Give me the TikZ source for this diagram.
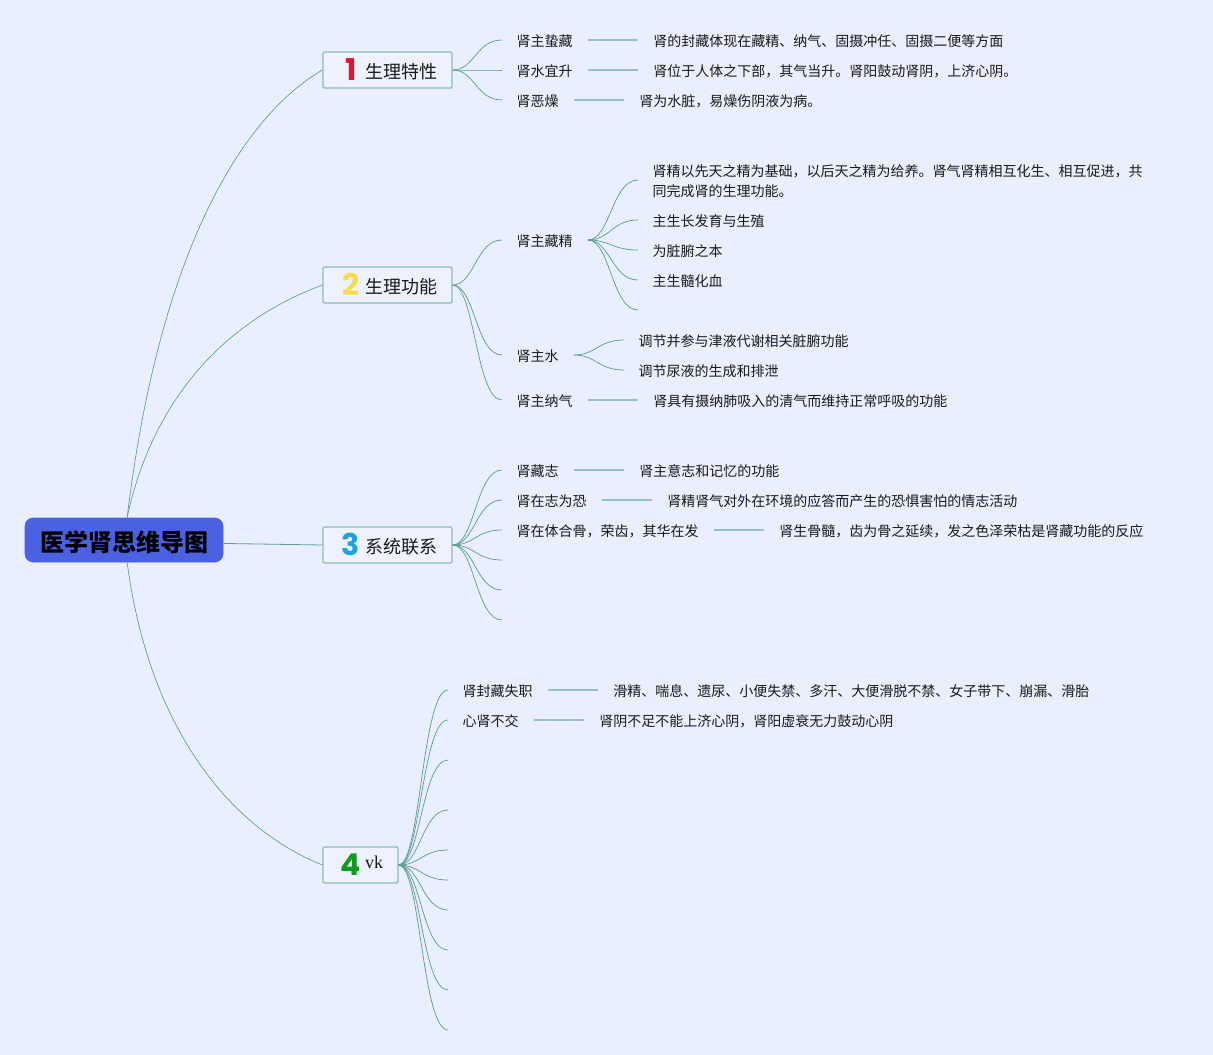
\documentclass[tikz,border=0pt]{standalone}
\usepackage{fontspec}
\setmainfont{Noto Sans CJK SC}
\newfontfamily\numfont{Poppins}[BoldFont={Poppins Bold}]
\newfontfamily\vkfont{Liberation Serif}
\usetikzlibrary{positioning,calc}
\definecolor{pagebg}{HTML}{E9EFFD}
\definecolor{rootblue}{HTML}{4A62E2}
\definecolor{boxline}{HTML}{8DBCBC}
\definecolor{boxfill}{HTML}{EDF2FC}
\definecolor{curve}{HTML}{5E9D9A}
\definecolor{stemline}{HTML}{98C2C2}
\definecolor{numred}{HTML}{E0162F}
\definecolor{numyellow}{HTML}{F6DC50}
\definecolor{numblue}{HTML}{1FA2DF}
\definecolor{numgreen}{HTML}{109C20}
\newcommand{\topicnum}[2]{\hspace{3pt}\smash{\makebox[12pt]{\hspace{1pt}\fontsize{22.5pt}{24pt}\selectfont\numfont\bfseries\textcolor{#1}{\raisebox{-1.5pt}{#2}}}}\hspace{5.25pt}}

\begin{document}
\begin{tikzpicture}[
x = 0.75pt, y = -0.75pt,
node distance = 10.85pt,
every node/.style = {
	inner sep = 0pt,
	text = black!90,
	font = \fontsize{10.5pt}{15pt}\selectfont
},
root/.style = {
	draw = rootblue,
	fill = rootblue,
	rounded corners = 6pt,
	minimum width = 148.5pt,
	minimum height = 33pt,
	text height = 18.5pt,
	text depth = 1.8pt,
	text = black,
	font = \fontsize{18pt}{20pt}\selectfont\bfseries
},
topic/.style = {
	draw = boxline,
	fill = boxfill,
	line width = 0.9pt,
	rounded corners = 1pt,
	minimum height = 27pt,
	text height = 14pt,
	text depth = 1.25pt,
	font = \fontsize{13.5pt}{15pt}\selectfont
},
branch/.style = {
	curve,
	line width = 0.55pt,
	to path = {.. controls ($(\tikztostart)+(22,0)$) and ($(\tikztotarget)+(-26,0)$) .. (\tikztotarget)}
},
stem/.style = {
	stemline,
	line width = 0.9pt,
	shorten < = 11.25pt,
	shorten > = 11.25pt
},
item/.style = {
	anchor = west,
	text height = 10.5pt,
	text depth = 1pt
},
para/.style = {
	anchor = west,
	align = left,
	yshift = -1pt
}
]
\useasboundingbox[fill = pagebg] (0,0) rectangle (1213,1055);

\node[root] (root) at (124,540) {医学肾思维导图};

\node[topic, minimum width = 96.75pt] (phys) at (387.5,70) {\topicnum{numred}{1}生理特性};
\node[topic, minimum width = 96.75pt] (func) at (387.5,285) {\topicnum{numyellow}{2}生理功能};
\node[topic, minimum width = 96.75pt] (link) at (387.5,545) {\topicnum{numblue}{3}系统联系};
\node[topic, minimum width = 56.25pt] (vk) at (360.5,865) {\topicnum{numgreen}{4}{\vkfont\raisebox{3.4pt}{vk}}};

\draw[curve, line width = 0.5pt] (root.82) .. controls (160,245) and (245,115) .. (phys.west);
\draw[curve, line width = 0.5pt] (root.82) .. controls (150,410) and (215,325) .. (func.west);
\draw[curve, line width = 0.6pt] (root.-2) -- (link.west);
\draw[curve, line width = 0.5pt] (root.-82) .. controls (150,735) and (235,830) .. (vk.west);

% first topic
\foreach \n/\y in {a/40, b/70, c/100}
	\coordinate (phys\n) at (502,\y);
\foreach \n in {a, b, c}
	\draw[branch] (phys.east) to (phys\n);

\node[item, right = of physa] (seal) {肾主蛰藏};
\node[item, right = 60pt of seal] (sealx) {肾的封藏体现在藏精、纳气、固摄冲任、固摄二便等方面};
\node[item, right = of physb] (rise) {肾水宜升};
\node[item, right = 60pt of rise] (risex) {肾位于人体之下部，其气当升。肾阳鼓动肾阴，上济心阴。};
\node[item, right = of physc] (dry) {肾恶燥};
\node[item, right = 60pt of dry] (dryx) {肾为水脏，易燥伤阴液为病。};
\draw[stem] (seal) -- (sealx);
\draw[stem] (rise) -- (risex);
\draw[stem] (dry) -- (dryx);

% second topic
\foreach \n/\y in {a/240, b/355, c/400}
	\coordinate (func\n) at (502,\y);
\foreach \n in {a, b, c}
	\draw[branch] (func.east) to (func\n);

\node[item, right = of funca] (jing) {肾主藏精};
\node[item, right = of funcb] (water) {肾主水};
\node[item, right = of funcc] (qi) {肾主纳气};
\node[item, right = 60pt of qi] (qix) {肾具有摄纳肺吸入的清气而维持正常呼吸的功能};
\draw[stem] (qi) -- (qix);

\coordinate (jingo) at (588,240);
\foreach \n/\y in {a/180, b/220, c/250, d/280, e/310}
	\coordinate (jing\n) at (638,\y);
\foreach \n in {a, b, c, d, e}
	\draw[branch] (jingo) to (jing\n);
\node[para, right = of jinga] (jinga1) {肾精以先天之精为基础，以后天之精为给养。肾气肾精相互化生、相互促进，共\\同完成肾的生理功能。};
\node[item, right = of jingb] (jingb1) {主生长发育与生殖};
\node[item, right = of jingc] (jingc1) {为脏腑之本};
\node[item, right = of jingd] (jingd1) {主生髓化血};

\coordinate (watero) at (574,355);
\coordinate (watera) at (624,340);
\coordinate (waterb) at (624,370);
\draw[branch] (watero) to (watera);
\draw[branch] (watero) to (waterb);
\node[item, right = of watera] (watera1) {调节并参与津液代谢相关脏腑功能};
\node[item, right = of waterb] (waterb1) {调节尿液的生成和排泄};

% third topic
\foreach \n/\y in {a/470, b/500, c/530, d/560, e/590, f/620}
	\coordinate (link\n) at (502,\y);
\foreach \n in {a, b, c, d, e, f}
	\draw[branch] (link.east) to (link\n);

\node[item, right = of linka] (will) {肾藏志};
\node[item, right = 60pt of will] (willx) {肾主意志和记忆的功能};
\node[item, right = of linkb] (fear) {肾在志为恐};
\node[item, right = 60pt of fear] (fearx) {肾精肾气对外在环境的应答而产生的恐惧害怕的情志活动};
\node[item, right = of linkc] (bone) {肾在体合骨，荣齿，其华在发};
\node[item, right = 60pt of bone] (bonex) {肾生骨髓，齿为骨之延续，发之色泽荣枯是肾藏功能的反应};
\draw[stem] (will) -- (willx);
\draw[stem] (fear) -- (fearx);
\draw[stem] (bone) -- (bonex);

% fourth topic
\foreach \n/\y in {a/690, b/720, c/760, d/810, e/850, f/880, g/910, h/950, i/990, j/1030}
	\coordinate (vk\n) at (448,\y);
\foreach \n in {a, b, c, d, e, f, g, h, i, j}
	\draw[branch] (vk.east) to (vk\n);

\node[item, right = of vka] (lost) {肾封藏失职};
\node[item, right = 60pt of lost] (lostx) {滑精、喘息、遗尿、小便失禁、多汗、大便滑脱不禁、女子带下、崩漏、滑胎};
\node[item, right = of vkb] (heart) {心肾不交};
\node[item, right = 60pt of heart] (heartx) {肾阴不足不能上济心阴，肾阳虚衰无力鼓动心阴};
\draw[stem] (lost) -- (lostx);
\draw[stem] (heart) -- (heartx);
\end{tikzpicture}
\end{document}
